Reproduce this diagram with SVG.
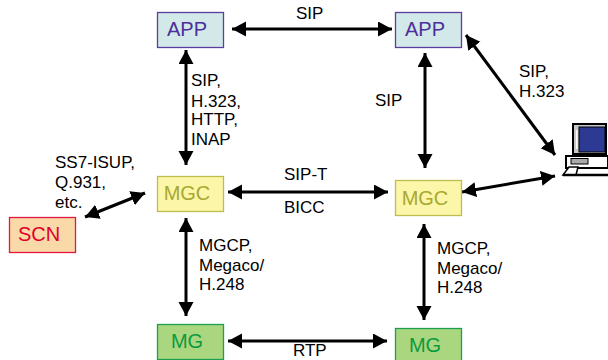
<svg xmlns="http://www.w3.org/2000/svg" width="608" height="360" viewBox="0 0 608 360">
<style>
text{font-family:"Liberation Sans",Arial,sans-serif;font-size:17px;fill:#000}
.n{font-size:20px;text-anchor:middle}
.c line{stroke:#000;stroke-width:3;marker-start:url(#a);marker-end:url(#a)}
.app rect{fill:#d3e8e8;stroke:#5b3f9e;stroke-width:1.3}.app text{fill:#4b2f9a}
.mgc rect{fill:#fbf6a8;stroke:#c0bc50;stroke-width:1.3}.mgc text{fill:#a9a830}
.mg rect{fill:#aad680;stroke:#1aa050;stroke-width:1.3}.mg text{fill:#0a9a40}
.scn rect{fill:#fad9a8;stroke:#e01840;stroke-width:1.3}.scn text{fill:#e0002a}
</style>
<defs><marker id="a" markerUnits="userSpaceOnUse" markerWidth="16" markerHeight="16" refX="14" refY="7.500" orient="auto-start-reverse"><path d="M0 0L14 7.500L0 15Z" fill="#000"/></marker></defs>
<g id="connectors" class="c">
<line x1="232" y1="29" x2="392" y2="29"/>
<line x1="186" y1="50" x2="186" y2="165"/>
<line x1="425" y1="53" x2="425" y2="168"/>
<line x1="466" y1="35" x2="555" y2="155"/>
<line x1="462" y1="192" x2="555" y2="176"/>
<line x1="228" y1="192" x2="388" y2="192"/>
<line x1="85" y1="217" x2="145" y2="193"/>
<line x1="186" y1="218" x2="186" y2="316"/>
<line x1="424" y1="224" x2="424" y2="320"/>
<line x1="228" y1="341" x2="387" y2="341"/>
</g>
<g id="app1" class="app"><rect x="157.500" y="12.500" width="66" height="35"/><text class="n" x="187" y="36">APP</text></g>
<g id="app2" class="app"><rect x="395.500" y="12.500" width="66" height="35"/><text class="n" x="425" y="36">APP</text></g>
<g id="mgc1" class="mgc"><rect x="157.500" y="176.500" width="66" height="35"/><text class="n" x="187" y="200">MGC</text></g>
<g id="mgc2" class="mgc"><rect x="395.500" y="180.500" width="66" height="35"/><text class="n" x="425" y="205">MGC</text></g>
<g id="scn" class="scn"><rect x="9.500" y="217.500" width="66" height="35"/><text class="n" x="39" y="241">SCN</text></g>
<g id="mg1" class="mg"><rect x="157.500" y="324.500" width="66" height="35"/><text class="n" x="187" y="348">MG</text></g>
<g id="mg2" class="mg"><rect x="395.500" y="328.500" width="66" height="35"/><text class="n" x="425" y="352">MG</text></g>
<g id="labels">
<text x="296" y="19">SIP</text>
<text x="191" y="86">SIP,</text><text x="191" y="107">H.323,</text><text x="191" y="125">HTTP,</text><text x="191" y="145">INAP</text>
<text x="375" y="106">SIP</text>
<text x="519" y="77">SIP,</text><text x="519" y="97">H.323</text>
<text x="55" y="168">SS7-ISUP,</text><text x="55" y="188">Q.931,</text><text x="55" y="208">etc.</text>
<text x="284" y="180">SIP-T</text><text x="284" y="213">BICC</text>
<text x="199" y="251">MGCP,</text><text x="199" y="271">Megaco/</text><text x="199" y="290">H.248</text>
<text x="437" y="254">MGCP,</text><text x="437" y="274">Megaco/</text><text x="437" y="293">H.248</text>
<text x="293" y="356">RTP</text>
</g>
<g id="computer">
<rect x="572" y="123" width="35" height="32" fill="#000"/>
<rect x="574" y="125" width="31" height="28" fill="#c8c8c8"/>
<rect x="579" y="127" width="26" height="25" fill="#2c3a94" stroke="#000"/>
<rect x="576" y="130" width="1.500" height="19" fill="#fff"/>
<rect x="566" y="156" width="42" height="12" fill="#fff" stroke="#000" stroke-width="2"/>
<rect x="571" y="158.500" width="17" height="5.500" fill="#aaa" stroke="#000"/>
<path d="M563 175L569 167H578L576 175Z" fill="#fff" stroke="#000" stroke-width="1.500"/>
<path d="M563 175H608" stroke="#000" stroke-width="2.500"/>
</g>
</svg>
